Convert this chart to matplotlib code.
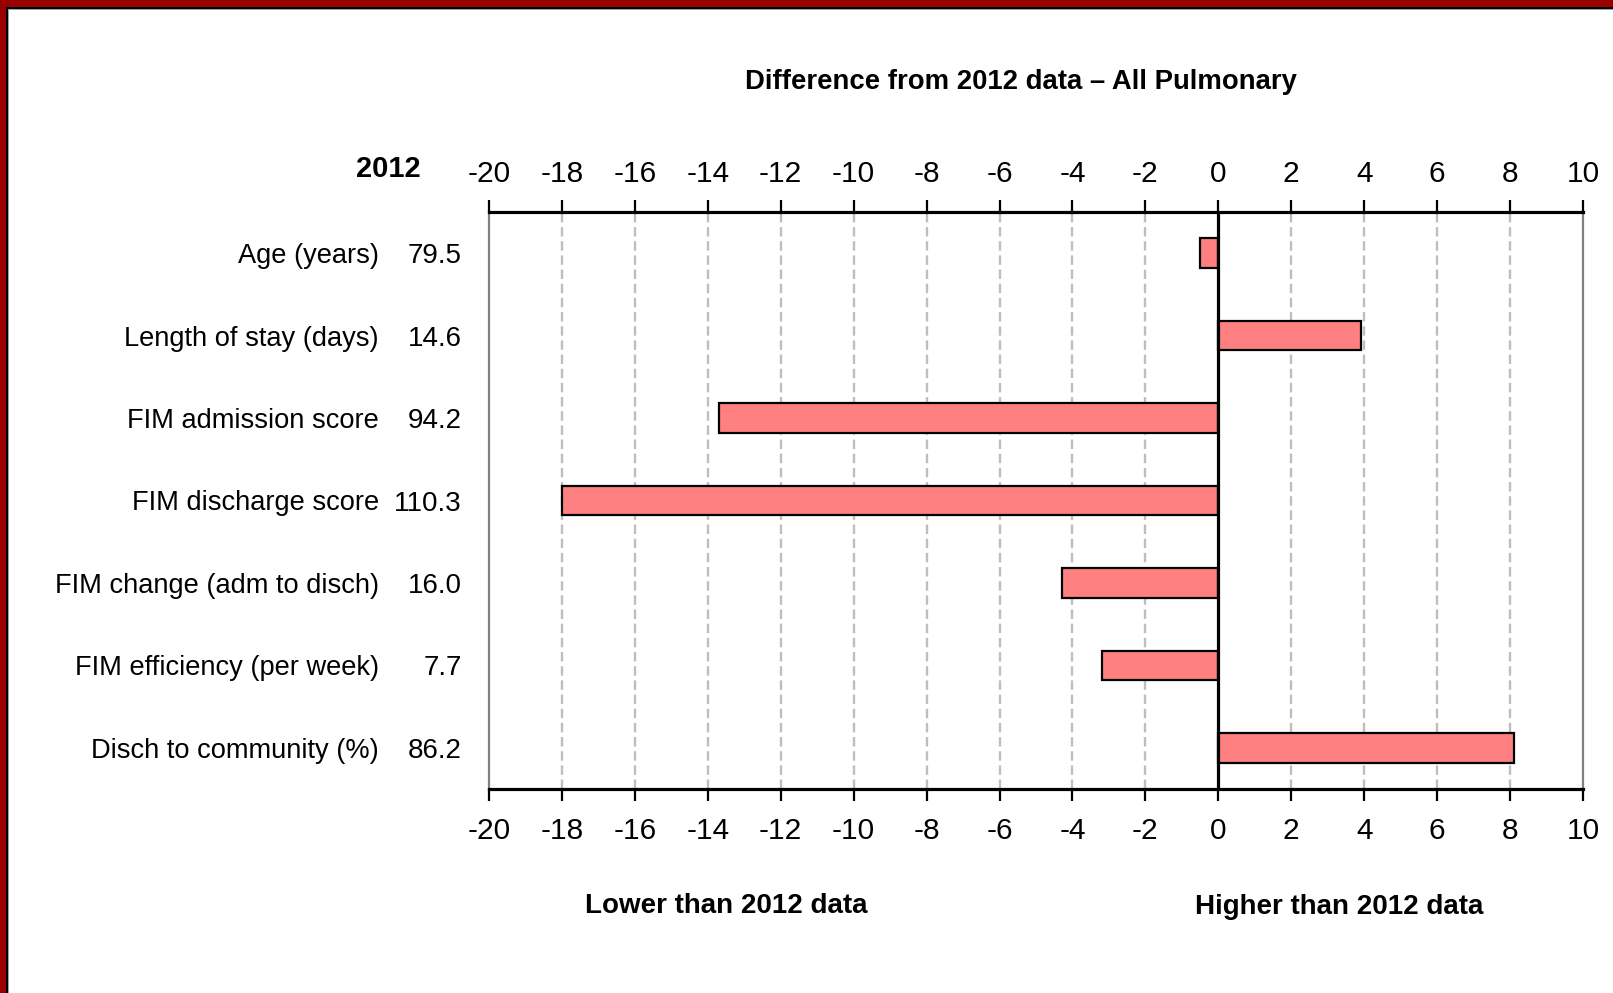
import matplotlib
matplotlib.use("Agg")
import matplotlib.pyplot as plt
from matplotlib.patches import Rectangle
from matplotlib.transforms import blended_transform_factory, offset_copy

categories = ["Age (years)", "Length of stay (days)", "FIM admission score",
              "FIM discharge score", "FIM change (adm to disch)",
              "FIM efficiency (per week)", "Disch to community (%)"]
values_2012 = ["79.5", "14.6", "94.2", "110.3", "16.0", "7.7", "86.2"]
differences = [-0.5, 3.9, -13.7, -18.0, -4.3, -3.2, 8.1]
xticks = list(range(-20, 11, 2))

plt.rcParams['font.family'] = ['Liberation Sans Narrow', 'Liberation Sans', 'DejaVu Sans']
plt.rcParams['axes.unicode_minus'] = False

W, H = 1613, 993
fig = plt.figure(figsize=(W / 100, H / 100), dpi=100)
fig.patch.set_facecolor('white')

# border (top and left only, as in the cropped screenshot)
fig.patches.append(Rectangle((0, 1 - 7 / H), 1, 7 / H, transform=fig.transFigure,
                             facecolor='#990000', edgecolor='none', zorder=0))
fig.patches.append(Rectangle((0, 1 - 9 / H), 1, 2 / H, transform=fig.transFigure,
                             facecolor='black', edgecolor='none', zorder=0))
fig.patches.append(Rectangle((0, 1 - 10 / H), 1, 1 / H, transform=fig.transFigure,
                             facecolor='#a0a0a0', edgecolor='none', zorder=0))
fig.patches.append(Rectangle((0, 0), 6 / W, 1, transform=fig.transFigure,
                             facecolor='#990000', edgecolor='none', zorder=1))
fig.patches.append(Rectangle((6 / W, 0), 2 / W, 1 - 7 / H, transform=fig.transFigure,
                             facecolor='black', edgecolor='none', zorder=1))
fig.patches.append(Rectangle((8 / W, 0), 1 / W, 1 - 9 / H, transform=fig.transFigure,
                             facecolor='#a0a0a0', edgecolor='none', zorder=1))

left, right = 489 / W, 1583 / W
top, bottom = 1 - 212 / H, 1 - 789 / H
ax = fig.add_axes([left, bottom, right - left, top - bottom])

y = list(range(len(categories)))
ax.barh(y, differences, height=0.36, color='#FF8080', edgecolor='black',
        linewidth=1.6, zorder=3)

ax.set_xlim(-20, 10)
ax.set_ylim(len(categories) - 0.5, -0.5)
ax.set_xticks(xticks)
ax.set_xticklabels([str(t) for t in xticks])
ax.set_yticks([])

for t in xticks:
    if t not in (-20, 0, 10):
        ax.axvline(t, color='#BEBEBE', linewidth=1.7, dashes=(4, 2), zorder=1)
ax.axvline(0, color='black', linewidth=2.3, zorder=4)

for s in ('top', 'bottom'):
    ax.spines[s].set_color('black')
    ax.spines[s].set_linewidth(2.3)
    ax.spines[s].set_zorder(5)
for s in ('left', 'right'):
    ax.spines[s].set_color('#808080')
    ax.spines[s].set_linewidth(1.6)

ax.tick_params(axis='x', which='major', top=False, bottom=True, labeltop=False,
               labelbottom=True, direction='out', length=8.6, width=1.6,
               color='black', labelsize=21.5, pad=11.5)

ax_top = ax.twiny()
ax_top.set_xlim(ax.get_xlim())
ax_top.set_xticks(xticks)
ax_top.set_xticklabels([str(t) for t in xticks])
for s in ax_top.spines.values():
    s.set_visible(False)
ax_top.tick_params(axis='x', which='major', top=True, labeltop=True, bottom=False,
                   labelbottom=False, direction='out', length=8.6, width=1.6,
                   color='black', labelsize=21.5, pad=9)

trans = offset_copy(blended_transform_factory(fig.transFigure, ax.transData),
                    fig=fig, x=0, y=-3, units='dots')
for i, (cat, val) in enumerate(zip(categories, values_2012)):
    ax.text(379 / W, i, cat, transform=trans, ha='right', va='center', fontsize=19.6)
    ax.text(462 / W, i, val, transform=trans, ha='right', va='center', fontsize=20)

fig.text(421 / W, 1 - 169 / H, "2012", ha='right', va='center', fontsize=21,
         fontweight='bold')
fig.text(1021 / W, 1 - 82 / H, "Difference from 2012 data \u2013 All Pulmonary",
         ha='center', va='center', fontsize=19.8, fontweight='bold')
fig.text(726 / W, 1 - 906 / H, "Lower than 2012 data", ha='center', va='center',
         fontsize=20, fontweight='bold')
fig.text(1339 / W, 1 - 907 / H, "Higher than 2012 data", ha='center', va='center',
         fontsize=20, fontweight='bold')

fig.savefig("out.png", dpi=100, facecolor='white')
